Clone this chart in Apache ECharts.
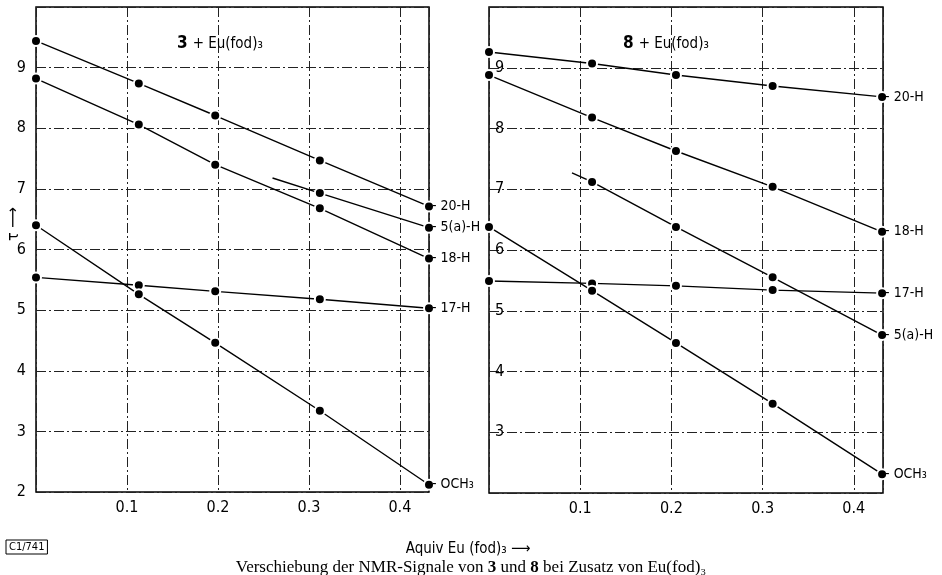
<!DOCTYPE html>
<html>
<head>
<meta charset="utf-8">
<script src="https://cdn.jsdelivr.net/npm/echarts@6/dist/echarts.min.js"></script>
<style>
  html, body { margin: 0; padding: 0; background: #fff; }
  #chart { width: 942px; height: 575px; }
</style>
</head>
<body>
<div id="chart"></div>
<script>
// left panel: 3 + Eu(fod)3
const xLeft = [0, 0.113, 0.197, 0.312, 0.432];
const left20H = [9.44, 8.74, 8.21, 7.47, 6.71];
const left18H = [8.82, 8.06, 7.40, 6.68, 5.85];
const left17H = [5.54, 5.41, 5.31, 5.18, 5.03];
const leftOCH3 = [6.40, 5.26, 4.46, 3.34, 2.12];
// 5(a)-H starts with a line stub without marker
const xLeft5a = [0.26, 0.312, 0.432];
const left5aH = [7.18, 6.93, 6.36];

// right panel: 8 + Eu(fod)3
const xRight = [0, 0.113, 0.205, 0.311, 0.431];
const right20H = [9.26, 9.07, 8.88, 8.70, 8.52];
const right18H = [8.88, 8.18, 7.63, 7.04, 6.30];
const right17H = [5.49, 5.45, 5.41, 5.34, 5.29];
const rightOCH3 = [6.38, 5.33, 4.47, 3.47, 2.31];
const xRight5a = [0.091, 0.113, 0.205, 0.311, 0.431];
const right5aH = [7.27, 7.12, 6.38, 5.55, 4.60];

const xTicks = [0.1, 0.2, 0.3, 0.4];
const yTicksLeft = [2, 3, 4, 5, 6, 7, 8, 9];
const yTicksRight = [3, 4, 5, 6, 7, 8, 9];

const narrow = '"Liberation Sans Narrow", "DejaVu Sans Condensed", sans-serif';
const gridDash = { color: '#222', width: 1, type: [10, 3, 2, 3] };

const near = (v, list) => list.some(t => Math.abs(t - v) < 1e-6);

function makeSeries(xs, ys, idx, name, noMarkerFirst) {
    const data = xs.map((x, i) => {
        const item = { value: [x, ys[i]] };
        if (noMarkerFirst && i === 0) item.symbol = 'none';
        return item;
    });
    return {
        type: 'line',
        name,
        xAxisIndex: idx,
        yAxisIndex: idx,
        data,
        clip: false,
        symbol: 'circle',
        symbolSize: 10,
        itemStyle: { color: '#000', borderColor: '#fff', borderWidth: 2 },
        lineStyle: { color: '#000', width: 1.4 },
        endLabel: {
            show: true,
            formatter: '- ' + name,
            color: '#000',
            fontFamily: narrow,
            fontSize: 14,
            distance: 3
        },
        animation: false,
        z: 3
    };
}

function xAxisFor(idx) {
    return {
        type: 'value', gridIndex: idx, min: 0, max: 0.432, interval: 0.1,
        axisLine: { show: false },
        axisTick: { show: false },
        axisLabel: {
            color: '#000', fontFamily: narrow, fontSize: 16, margin: 8,
            showMinLabel: false, showMaxLabel: false,
            formatter: v => near(v, xTicks) ? v.toFixed(1) : ''
        },
        splitLine: { show: true, lineStyle: gridDash }
    };
}

function yAxisFor(idx, inside, ticks) {
    return {
        type: 'value', gridIndex: idx, min: 2, max: 10, interval: 1,
        axisLine: { show: false },
        axisTick: { show: false },
        axisLabel: {
            color: '#000', fontFamily: narrow, fontSize: 16,
            inside, margin: inside ? 6 : 10,
            formatter: v => near(v, ticks) ? String(v) : ''
        },
        splitLine: { show: true, lineStyle: gridDash }
    };
}

const titleRich = {
    b: { fontWeight: 'bold', fontSize: 17, fontFamily: narrow, color: '#000' },
    n: { fontWeight: 'normal', fontSize: 15, fontFamily: narrow, color: '#000' }
};

const chart = echarts.init(document.getElementById('chart'), null, { renderer: 'canvas' });

const option = {
    backgroundColor: '#fff',
    animation: false,
    grid: [
        { left: 36, top: 7, width: 393, height: 485, show: true, borderColor: '#000', borderWidth: 1.5 },
        { left: 489, top: 7, width: 394, height: 486, show: true, borderColor: '#000', borderWidth: 1.5 }
    ],
    xAxis: [xAxisFor(0), xAxisFor(1)],
    yAxis: [yAxisFor(0, false, yTicksLeft), yAxisFor(1, true, yTicksRight)],
    title: [
        { left: 172, top: 30, text: '{b|3} {n|+ Eu(fod)₃}', textStyle: { fontWeight: 'normal', rich: titleRich } },
        { left: 618, top: 30, text: '{b|8} {n|+ Eu(fod)₃}', textStyle: { fontWeight: 'normal', rich: titleRich } }
    ],
    graphic: [
        // y axis name: tau with arrow, rotated
        {
            type: 'text', x: 14, y: 224, rotation: Math.PI / 2,
            style: { text: 'τ ⟶', font: '16px ' + narrow, fill: '#000', align: 'center', verticalAlign: 'middle' }
        },
        // x axis name
        {
            type: 'text', x: 468, y: 549,
            style: { text: 'Aquiv Eu (fod)₃ ⟶', font: '15px ' + narrow, fill: '#000', align: 'center', verticalAlign: 'middle' }
        },
        // figure code box
        {
            type: 'text', x: 6, y: 547,
            style: {
                text: 'C1/741', font: '11px ' + narrow, fill: '#000', verticalAlign: 'middle',
                borderColor: '#000', borderWidth: 1, padding: [2, 3, 1, 3]
            }
        },
        // caption
        {
            type: 'text', x: 471, y: 568,
            style: {
                text: '{n|Verschiebung der NMR-Signale von }{b|3}{n| und }{b|8}{n| bei Zusatz von Eu(fod)₃}',
                align: 'center', verticalAlign: 'middle',
                rich: {
                    n: { font: '17px "Liberation Serif", "DejaVu Serif", serif', fill: '#000' },
                    b: { font: 'bold 17px "Liberation Serif", "DejaVu Serif", serif', fill: '#000' }
                }
            }
        }
    ],
    series: [
        makeSeries(xLeft, left20H, 0, '20-H'),
        makeSeries(xLeft5a, left5aH, 0, '5(a)-H', true),
        makeSeries(xLeft, left18H, 0, '18-H'),
        makeSeries(xLeft, left17H, 0, '17-H'),
        makeSeries(xLeft, leftOCH3, 0, 'OCH₃'),
        makeSeries(xRight, right20H, 1, '20-H'),
        makeSeries(xRight, right18H, 1, '18-H'),
        makeSeries(xRight, right17H, 1, '17-H'),
        makeSeries(xRight5a, right5aH, 1, '5(a)-H', true),
        makeSeries(xRight, rightOCH3, 1, 'OCH₃')
    ]
};

chart.setOption(option);
window.addEventListener('resize', () => chart.resize());
</script>
</body>
</html>
